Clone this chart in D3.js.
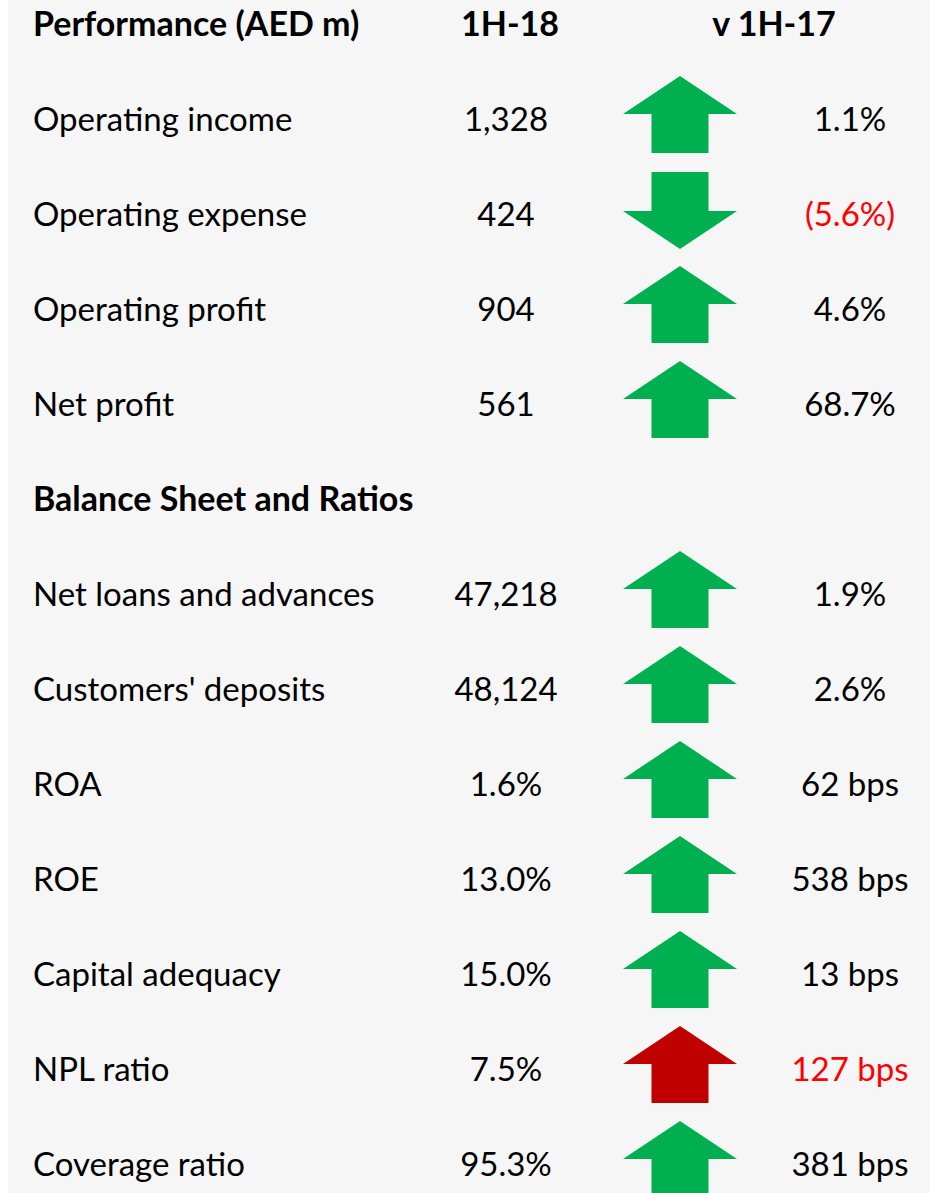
<!DOCTYPE html>
<html>
<head>
<meta charset="utf-8">
<script src="https://cdn.jsdelivr.net/npm/d3@7"></script>
<style>
  html, body { margin: 0; padding: 0; background: #fff; }
  svg { display: block; }
  text { font-family: Lato, "Open Sans", sans-serif; }
</style>
</head>
<body>
<svg id="chart"></svg>
<script>
const WIDTH = 930;
const HEIGHT = 1193;

// table content
const HEADERS = ["Performance (AED m)", "1H-18", "v 1H-17"];
const SECTION = "Balance Sheet and Ratios";
const LABELS = ["Operating income", "Operating expense", "Operating profit", "Net profit",
    null,
    "Net loans and advances", "Customers' deposits", "ROA", "ROE", "Capital adequacy",
    "NPL ratio", "Coverage ratio"];
const VALUES = ["1,328", "424", "904", "561", null,
    "47,218", "48,124", "1.6%", "13.0%", "15.0%", "7.5%", "95.3%"];
const CHANGES = ["1.1%", "(5.6%)", "4.6%", "68.7%", null,
    "1.9%", "2.6%", "62 bps", "538 bps", "13 bps", "127 bps", "381 bps"];
const DIRECTION = ["up", "down", "up", "up", null,
    "up", "up", "up", "up", "up", "up", "up"];
const FAVOURABLE = [true, true, true, true, null,
    true, true, true, true, true, false, true];
const CHANGE_RED = [false, true, false, false, null,
    false, false, false, false, false, true, false];

const GREEN = "#00b050";
const DARKRED = "#c00000";
const RED = "#ff0000";

const svg = d3.select("#chart")
    .attr("width", WIDTH)
    .attr("height", HEIGHT);

svg.append("rect")
    .attr("x", 8).attr("y", 0)
    .attr("width", WIDTH - 8).attr("height", HEIGHT)
    .attr("fill", "#f6f6f6");

// row index -> y of text centre (header is row 0)
const y = d3.scaleLinear().domain([0, 12]).range([24, 1164]);

const rows = LABELS.map(function(d, i) {
    return { label: d, value: VALUES[i], change: CHANGES[i], dir: DIRECTION[i],
        good: FAVOURABLE[i], red: CHANGE_RED[i], row: i + 1 };
}).filter(function(d) { return d.label !== null; });

const FS = 33;

// header
const header = svg.append("g").attr("font-weight", "bold").attr("font-size", 34);
header.append("text").attr("x", 33).attr("y", y(0)).attr("dy", "0.35em")
    .text(HEADERS[0]);
header.append("text").attr("x", 510).attr("y", y(0)).attr("dy", "0.35em")
    .attr("text-anchor", "middle").text(HEADERS[1]);
header.append("text").attr("x", 774).attr("y", y(0)).attr("dy", "0.35em")
    .attr("text-anchor", "middle").text(HEADERS[2]);
header.append("text").attr("x", 33).attr("y", y(5)).attr("dy", "0.35em")
    .text(SECTION);

const g = svg.selectAll(".row")
    .data(rows)
    .enter().append("g")
    .attr("class", "row")
    .attr("transform", function(d) { return "translate(0," + y(d.row) + ")"; })
    .attr("font-size", FS);

g.append("text")
    .attr("x", 33).attr("dy", "0.35em")
    .text(function(d) { return d.label; });

g.append("text")
    .attr("x", 506).attr("dy", "0.35em")
    .attr("text-anchor", "middle")
    .text(function(d) { return d.value; });

g.append("text")
    .attr("x", 850).attr("dy", "0.35em")
    .attr("text-anchor", "middle")
    .attr("fill", function(d) { return d.red ? RED : "#000"; })
    .text(function(d) { return d.change; });

// block arrows
const upArrow = [[0, -43], [57, -5], [28.5, -5], [28.5, 34], [-28.5, 34], [-28.5, -5], [-57, -5]];
const downArrow = upArrow.map(function(p) { return [p[0], -p[1] - 8]; });

g.append("path")
    .attr("transform", "translate(680,0)")
    .attr("d", function(d) {
        return d3.line()(d.dir === "up" ? upArrow : downArrow) + "Z";
    })
    .attr("fill", function(d) { return d.good ? GREEN : DARKRED; });
</script>
</body>
</html>
